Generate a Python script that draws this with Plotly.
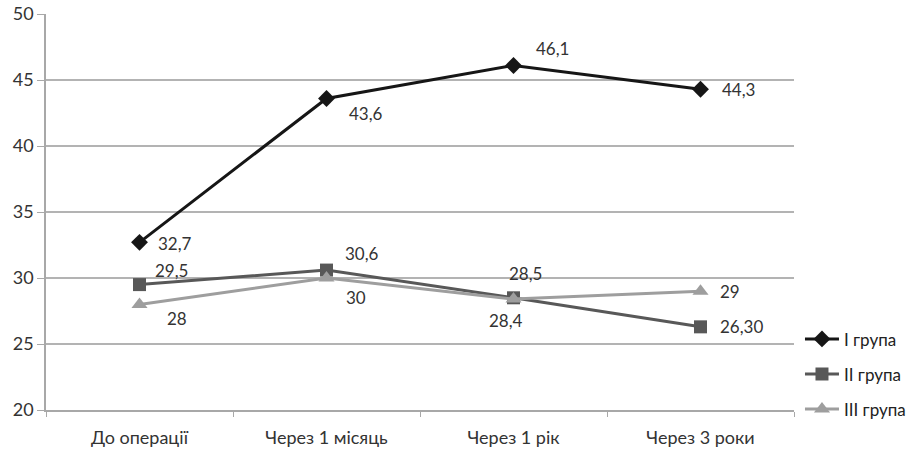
import plotly.graph_objects as go

categories = ["До операції", "Через 1 місяць", "Через 1 рік", "Через 3 роки"]
group1 = [32.7, 43.6, 46.1, 44.3]
group2 = [29.5, 30.6, 28.5, 26.3]
group3 = [28.0, 30.0, 28.4, 29.0]
labels1 = ["32,7", "43,6", "46,1", "44,3"]
labels2 = ["29,5", "30,6", "28,5", "26,30"]
labels3 = ["28", "30", "28,4", "29"]
names = ["I група", "II група", "III група"]

FONT = "Lato, 'Open Sans', sans-serif"

# label placement per point: (xanchor, xshift, yshift)
place1 = [("left", 16, -1), ("left", 20, -15), ("left", 20, 17), ("left", 19, 0)]
place2 = [("left", 13, 14), ("left", 16, 17), ("center", 12, 24), ("left", 17, 0)]
place3 = [("left", 25, -14), ("center", 29, -19), ("center", -8, -21), ("left", 17, 0)]

series = [
    (group1, labels1, names[0], "#161616", "diamond", 13, place1),
    (group2, labels2, names[1], "#585858", "square", 13, place2),
    (group3, labels3, names[2], "#9e9e9e", "triangle-up", 14, place3),
]

fig = go.Figure()
annotations = []
for vals, txt, name, color, sym, size, place in series:
    fig.add_trace(go.Scatter(
        x=categories, y=vals, name=name, legendgroup=name,
        mode="lines+markers",
        line=dict(color=color, width=3),
        marker=dict(symbol=sym, size=size, color=color),
        cliponaxis=False,
    ))
    for c, v, t, (xa, xs, ys) in zip(categories, vals, txt, place):
        annotations.append(dict(
            x=c, y=v, xref="x", yref="y", text=t, showarrow=False,
            xanchor=xa, yanchor="middle", xshift=xs, yshift=ys,
            font=dict(family=FONT, size=17, color="#333333"),
        ))

fig.update_layout(
    width=917, height=451,
    margin=dict(l=46, r=123, t=14, b=41, autoexpand=False),
    plot_bgcolor="white", paper_bgcolor="white",
    font=dict(family=FONT, size=15, color="#333333"),
    showlegend=True,
    annotations=annotations,
    legend=dict(
        x=1.008, xanchor="left", y=0.09, yanchor="middle",
        tracegroupgap=10, font=dict(size=17, color="#222222"),
        itemwidth=34, bgcolor="rgba(0,0,0,0)",
    ),
    xaxis=dict(
        type="category", range=[-0.5, 3.5], automargin=False,
        showgrid=False, showline=True, linecolor="#a8a8a8", linewidth=2,
        ticks="outside", tickson="boundaries", ticklen=5, tickcolor="#a8a8a8",
        tickfont=dict(size=18, color="#333333"), ticklabelstandoff=10,
    ),
    yaxis=dict(
        range=[20, 50], dtick=5, automargin=False,
        showgrid=True, gridcolor="#b3b3b3", gridwidth=1.5,
        showline=True, linecolor="#a8a8a8", linewidth=1.5,
        ticks="outside", ticklen=7, tickcolor="#a8a8a8",
        tickfont=dict(size=18, color="#333333"),
        zeroline=False,
    ),
)

fig.write_html("out.html")
